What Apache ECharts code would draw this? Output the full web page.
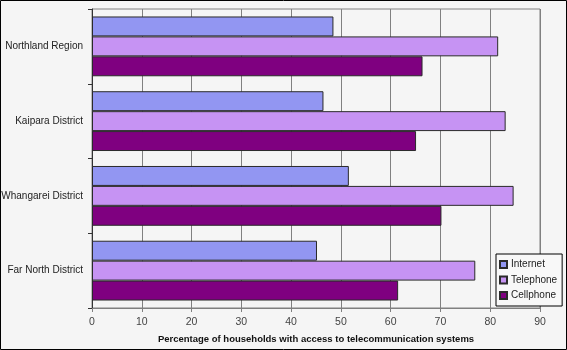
<!DOCTYPE html>
<html>
<head>
<meta charset="utf-8">
<script src="https://cdn.jsdelivr.net/npm/echarts@6/dist/echarts.min.js"></script>
<style>
  html, body { margin: 0; padding: 0; background: #f5f5f5; }
  #chart { width: 567px; height: 350px; }
</style>
</head>
<body>
<div id="chart"></div>
<script>
// Areas, listed top to bottom
const categories = ['Northland Region', 'Kaipara District', 'Whangarei District', 'Far North District'];

// Percentage of households with access, per area
const internet  = [48.5, 46.5, 51.6, 45.2];
const telephone = [81.6, 83.1, 84.7, 77.0];
const cellphone = [66.4, 65.1, 70.2, 61.5];

const xTicks = { min: 0, max: 90, interval: 10 };
const axisTitle = 'Percentage of households with access to telecommunication systems';

const chart = echarts.init(document.getElementById('chart'));

const barStyle = (color) => ({ color: color, borderColor: '#2a2a2a', borderWidth: 1 });

chart.setOption({
  backgroundColor: '#f5f5f5',
  animation: false,
  textStyle: { fontFamily: 'Liberation Sans, Arial, sans-serif' },
  graphic: [{
    type: 'rect',
    shape: { x: 0.5, y: 0.5, width: 566, height: 349 },
    style: { fill: 'none', stroke: '#000', lineWidth: 1 },
    silent: true,
    z: 100
  }],
  grid: {
    left: 92, right: 27, top: 9, bottom: 42,
    containLabel: false,
    outerBoundsMode: 'none',
    show: true, borderColor: '#808080', borderWidth: 1, backgroundColor: 'transparent'
  },
  legend: {
    orient: 'vertical',
    left: 496, top: 254,
    padding: [5, 5, 5, 3],
    itemWidth: 7, itemHeight: 7, itemGap: 4.5,
    icon: 'rect',
    backgroundColor: '#f8f8f8',
    borderColor: '#000', borderWidth: 1,
    textStyle: { fontSize: 10, color: '#222', padding: [0, 0, 0, -1], lineHeight: 11 },
    data: ['Internet', 'Telephone', 'Cellphone']
  },
  xAxis: {
    type: 'value',
    min: xTicks.min, max: xTicks.max, interval: xTicks.interval,
    axisLine: { show: true, lineStyle: { color: '#808080' } },
    axisTick: { show: true, length: 4, lineStyle: { color: '#808080' } },
    axisLabel: { color: '#444', fontSize: 10.5, margin: 9 },
    splitLine: { show: true, lineStyle: { color: '#808080', width: 1 } },
    name: axisTitle,
    nameLocation: 'middle',
    nameGap: 26,
    nameTextStyle: { fontWeight: 'bold', fontSize: 9.5, color: '#111' }
  },
  yAxis: {
    type: 'category',
    inverse: true,
    data: categories,
    axisLine: { show: true, lineStyle: { color: '#333' } },
    axisTick: { show: true, length: 4, lineStyle: { color: '#333' } },
    axisLabel: { color: '#222', fontSize: 10, margin: 9 },
    splitLine: { show: false }
  },
  series: [
    { name: 'Internet',  type: 'bar', data: internet,  itemStyle: barStyle('#9296f2'), barGap: '0%', barCategoryGap: '20%' },
    { name: 'Telephone', type: 'bar', data: telephone, itemStyle: barStyle('#c693f3'), barGap: '0%', barCategoryGap: '20%' },
    { name: 'Cellphone', type: 'bar', data: cellphone, itemStyle: barStyle('#7f0080'), barGap: '0%', barCategoryGap: '20%' }
  ]
});
</script>
</body>
</html>
